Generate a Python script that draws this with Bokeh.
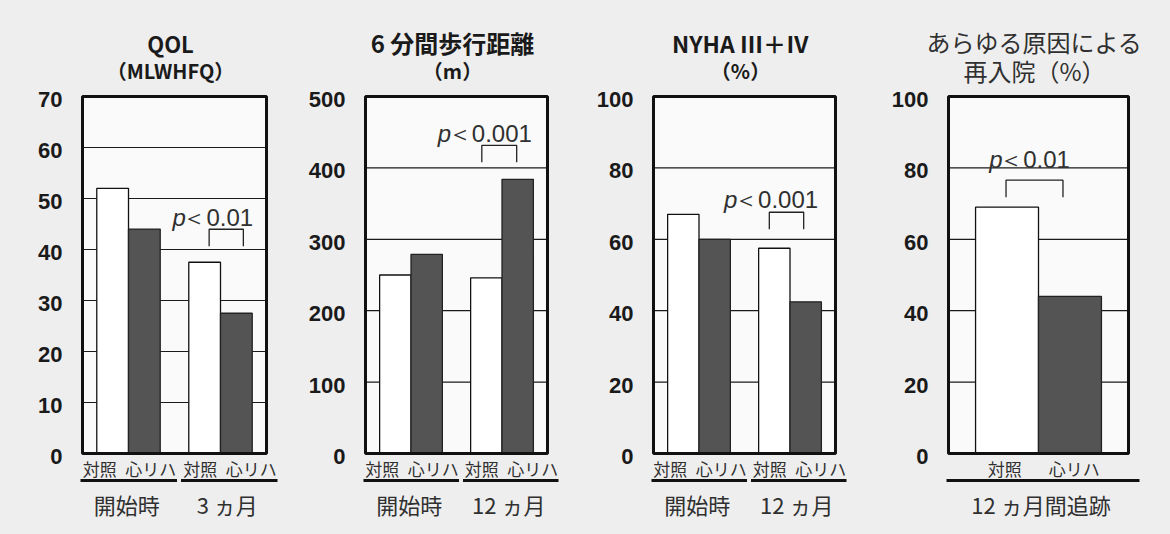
from bokeh.plotting import figure
from bokeh.layouts import row
from bokeh.models import Range1d, ColumnDataSource
from bokeh.core.properties import value
from bokeh.embed import file_html
from bokeh.resources import INLINE

# ---------------- data ----------------
subgroups = ["対照", "心リハ"]

qol_title = ["QOL", "（MLWHFQ）"]
qol_groups = ["開始時", "3 ヵ月"]
qol_control = [52.0, 37.5]
qol_rehab = [44.0, 27.5]
qol_ticks = [0, 10, 20, 30, 40, 50, 60, 70]
qol_p = "0.01"

walk_title = ["6 分間歩行距離", "（m）"]
walk_groups = ["開始時", "12 ヵ月"]
walk_control = [250, 246]
walk_rehab = [279, 384]
walk_ticks = [0, 100, 200, 300, 400, 500]
walk_p = "0.001"

nyha_title = ["NYHA Ⅲ＋Ⅳ", "（%）"]
nyha_groups = ["開始時", "12 ヵ月"]
nyha_control = [67.0, 57.5]
nyha_rehab = [60.0, 42.5]
nyha_ticks = [0, 20, 40, 60, 80, 100]
nyha_p = "0.001"

readm_title = ["あらゆる原因による", "再入院（%）"]
readm_groups = ["12 ヵ月間追跡"]
readm_control = [69.0]
readm_rehab = [44.0]
readm_ticks = [0, 20, 40, 60, 80, 100]
readm_p = "0.01"

# ---------------- style / layout ----------------
PAGE_M = 0
H = 534
FRAME_TOP = 96
FRAME_BOT = 453
NUM_FONT = "Liberation Sans"
JP_FONT = "Noto Sans CJK JP"
TEXT = "#1a1a1a"
SOFT = "#303030"
BG = "#eeeeee"
BOX_BG = "#fafafa"
DARK = "#545454"


def make_panel(fx, W, bl, br, title, title_sizes, groups, control, rehab, ticks,
               ptxt, p_dx, p_rise, br_gap, br_shift):
    ymax = ticks[-1]
    k = (FRAME_BOT - FRAME_TOP) / ymax

    def Y(py):
        return (FRAME_BOT - py) / k

    def X(px):
        return px - fx

    p = figure(width=W, height=H, x_range=Range1d(0, W),
               y_range=Range1d(Y(PAGE_M + H), Y(PAGE_M)),
               toolbar_location=None, output_backend="svg", min_border=0)
    p.axis.visible = False
    p.grid.visible = False
    p.outline_line_color = None
    p.background_fill_color = BG
    p.border_fill_color = BG

    n = len(groups)
    box_w = br - bl
    if n == 2:
        bw = box_w / 5.8
        m = 0.45 * bw
        gap = 0.9 * bw
    else:
        bw = box_w / 2.86
        m = 0.43 * bw
        gap = 0.0
    xc, xr = [], []
    for g in range(n):
        start = bl + m + g * (2 * bw + gap)
        xc.append(X(start + 0.5 * bw))
        xr.append(X(start + 1.5 * bw))

    # plot box background
    p.quad(left=[X(bl)], right=[X(br)], bottom=[0], top=[ymax],
           fill_color=BOX_BG, line_color=None)
    # grid lines
    inner = [t for t in ticks if 0 < t < ymax]
    p.segment(x0=[X(bl)] * len(inner), x1=[X(br)] * len(inner), y0=inner, y1=inner,
              line_color="#1a1a1a", line_width=1.2)
    # bars
    src_c = ColumnDataSource(dict(x=xc, top=control))
    src_r = ColumnDataSource(dict(x=xr, top=rehab))
    p.vbar(x="x", top="top", bottom=0, width=bw, source=src_c,
           fill_color="#ffffff", line_color="#111111", line_width=1.3)
    p.vbar(x="x", top="top", bottom=0, width=bw, source=src_r,
           fill_color=DARK, line_color="#222222", line_width=1.3)
    # box border
    p.quad(left=[X(bl)], right=[X(br)], bottom=[0], top=[ymax],
           fill_color=None, line_color="#111111", line_width=3)

    # y tick labels
    p.text(x=[X(bl) - 20] * len(ticks), y=ticks, text=[str(t) for t in ticks],
           text_font=value(NUM_FONT), text_font_size="22px", text_font_style="bold",
           text_align="right", text_baseline="middle", y_offset=3, text_color=TEXT)

    # category labels, underlines, group labels
    a = bl - 2
    b = br + 11
    if n == 2:
        half = (b - a - 4) / 2
        spans = [(a, a + half), (a + half + 4, b)]
        off = 25.5
    else:
        spans = [(a, b)]
        off = 34.75
    cx, ctext = [], []
    for (s0, s1) in spans:
        c = (s0 + s1) / 2 - 3.5
        cx += [X(c - off), X(c + off)]
        ctext += subgroups
    p.text(x=cx, y=[Y(468)] * len(cx), text=ctext, text_font=value(JP_FONT),
           text_font_size="17px", text_align="center", text_baseline="middle",
           text_color=SOFT)
    p.segment(x0=[X(s[0]) for s in spans], x1=[X(s[1]) for s in spans],
              y0=[Y(480)] * len(spans), y1=[Y(480)] * len(spans),
              line_color="#111111", line_width=3.2)
    p.text(x=[X((s[0] + s[1]) / 2 - 2) for s in spans], y=[Y(503)] * len(spans),
           text=groups, text_font=value(JP_FONT), text_font_size="22px",
           text_align="center", text_baseline="middle", text_color=SOFT)

    # titles
    tc = X((bl + br) / 2 - 4)
    if title_sizes is not None:
        p.text(x=[tc], y=[Y(42)], text=[title[0]], text_font=value(JP_FONT),
               text_font_size=f"{title_sizes[0]}px", text_font_style="bold",
               text_align="center", text_baseline="middle", text_color=TEXT)
        p.text(x=[tc], y=[Y(70)], text=[title[1]], text_font=value(JP_FONT),
               text_font_size=f"{title_sizes[1]}px", text_font_style="bold",
               text_align="center", text_baseline="middle", text_color=TEXT)
    else:
        p.text(x=[tc, tc], y=[Y(41), Y(70)], text=title, text_font=value(JP_FONT),
               text_font_size="24px", text_align="center", text_baseline="middle",
               text_color=SOFT)

    # significance bracket
    x1, x2 = xc[-1] + br_shift[0], xr[-1] + br_shift[1]
    ybot = max(control[-1], rehab[-1]) + br_gap / k
    ytop = ybot + 17 / k
    p.multi_line(xs=[[x1, x1, x2, x2]], ys=[[ybot, ytop, ytop, ybot]],
                 line_color="#222222", line_width=1.3)
    est_w = 14 + 24 + 13.3 * (len(ptxt) - 1) + 6.7
    left = (x1 + x2) / 2 + p_dx - est_w / 2
    py = ytop + p_rise / k
    p.text(x=[left], y=[py], text=["p"], text_font=value(NUM_FONT),
           text_font_size="24px", text_font_style="italic", text_align="left",
           text_baseline="middle", text_color=SOFT)
    p.text(x=[left + 10], y=[py], text=["＜" + ptxt], text_font=value(NUM_FONT),
           text_font_size="24px", text_align="left", text_baseline="middle",
           text_color=SOFT)
    return p


p1 = make_panel(0, 290, 82, 266, qol_title, (22, 20), qol_groups, qol_control,
                qol_rehab, qol_ticks, qol_p, -11.5, 12, 16, (4.5, 7))
p2 = make_panel(290, 290, 365, 547, walk_title, (24, 20), walk_groups, walk_control,
                walk_rehab, walk_ticks, walk_p, -12.5, 12, 17, (-4.5, -1))
p3 = make_panel(580, 290, 653, 835, nyha_title, (23, 20), nyha_groups, nyha_control,
                nyha_rehab, nyha_ticks, nyha_p, -13.5, 13, 19, (-5, -2))
p4 = make_panel(870, 300, 948, 1128, readm_title, None, readm_groups, readm_control,
                readm_rehab, readm_ticks, readm_p, -3, 21, 10, (-1, -7))

layout = row(p1, p2, p3, p4, spacing=0, styles={"background-color": BG})
open("out.html", "w").write(file_html(layout, INLINE))
